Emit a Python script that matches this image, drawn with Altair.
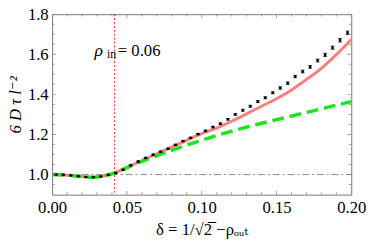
import altair as alt
import pandas as pd

# ---- data ----
pt_delta = [0.0025, 0.0075, 0.0125, 0.0175, 0.0225, 0.0275, 0.0325, 0.0375, 0.0425, 0.0475,
            0.0525, 0.0575, 0.0625, 0.0675, 0.0725, 0.0775, 0.0825, 0.0875, 0.0925, 0.0975,
            0.1025, 0.1075, 0.1125, 0.1175, 0.1225, 0.1275, 0.1325, 0.1375, 0.1425, 0.1475,
            0.1525, 0.1575, 0.1625, 0.1675, 0.1725, 0.1775, 0.1825, 0.1875, 0.1925, 0.1975]
pt_value = [1.000, 0.999, 0.996, 0.992, 0.988, 0.987, 0.990, 0.999, 1.008, 1.024,
            1.046, 1.065, 1.083, 1.099, 1.114, 1.129, 1.148, 1.167, 1.183, 1.202,
            1.218, 1.237, 1.254, 1.276, 1.300, 1.321, 1.341, 1.364, 1.383, 1.408,
            1.432, 1.456, 1.489, 1.514, 1.537, 1.569, 1.597, 1.633, 1.670, 1.707]
pt_err = [0.002, 0.002, 0.002, 0.002, 0.002, 0.002, 0.002, 0.002, 0.002, 0.002,
          0.003, 0.003, 0.003, 0.003, 0.003, 0.003, 0.003, 0.003, 0.003, 0.003,
          0.004, 0.004, 0.004, 0.004, 0.004, 0.005, 0.005, 0.005, 0.005, 0.005,
          0.006, 0.006, 0.006, 0.007, 0.007, 0.007, 0.008, 0.008, 0.009, 0.009]

curve_delta = [0.0, 0.01, 0.02, 0.025, 0.03, 0.035, 0.04, 0.05, 0.06, 0.07, 0.08, 0.09,
               0.10, 0.11, 0.12, 0.13, 0.14, 0.15, 0.16, 0.17, 0.18, 0.19, 0.20]
red_value = [1.000, 0.997, 0.990, 0.987, 0.988, 0.994, 1.004, 1.035, 1.070, 1.104, 1.137, 1.171,
             1.204, 1.232, 1.266, 1.303, 1.341, 1.378, 1.422, 1.474, 1.530, 1.598, 1.674]
green_value = [1.000, 0.997, 0.990, 0.987, 0.988, 0.994, 1.004, 1.035, 1.066, 1.094, 1.121, 1.147,
               1.172, 1.195, 1.216, 1.237, 1.256, 1.274, 1.292, 1.310, 1.328, 1.346, 1.364]

ref_line_value = [1.0, 1.0]
ref_line_delta = [0.0, 0.2]
vline_delta = [0.0418]

x_major = [0.0, 0.05, 0.10, 0.15, 0.20]
x_minor = [0.01, 0.02, 0.03, 0.04, 0.06, 0.07, 0.08, 0.09, 0.11, 0.12, 0.13, 0.14,
           0.16, 0.17, 0.18, 0.19]
y_major = [1.0, 1.2, 1.4, 1.6, 1.8]
y_minor = [0.95, 1.05, 1.1, 1.15, 1.25, 1.3, 1.35, 1.45, 1.5, 1.55, 1.65, 1.7, 1.75]

# annotation "ρ_in = 0.06": symbol (italic), subscript, rest
ann_sym = ["ρ"]
ann_sym_delta = [0.0283]
ann_sym_value = [1.589]
ann_sub = ["in"]
ann_sub_delta = [0.0366]
ann_sub_value = [1.579]
ann_rest = ["= 0.06"]
ann_rest_delta = [0.0439]
ann_rest_value = [1.589]

XDOM = [0.0, 0.2]
YDOM = [0.9, 1.8]
FONT = "Liberation Serif, Times New Roman, DejaVu Serif, serif"

pts = pd.DataFrame({"d": pt_delta, "v": pt_value, "e": pt_err})
pts["lo"] = pts["v"] - pts["e"]
pts["hi"] = pts["v"] + pts["e"]
curves = pd.DataFrame({"d": curve_delta, "red": red_value, "green": green_value})
href = pd.DataFrame({"d": ref_line_delta, "v": ref_line_value})
vref = pd.DataFrame({"d": vline_delta})

xs = alt.Scale(domain=XDOM, nice=False, zero=False)
ys = alt.Scale(domain=YDOM, nice=False, zero=False)

XTITLE = "δ = 1/√2̅ −ρₒᵤₜ"
YTITLE = "6 D τ l⁻²"

xaxis = alt.Axis(values=x_major, format=".2f", tickSize=0, domain=False, grid=False,
                 labelFlush=False, labelPadding=5, title=XTITLE, titlePadding=7)
yaxis = alt.Axis(values=y_major, format=".1f", tickSize=0, domain=False, grid=False,
                 labelFlush=False, labelPadding=4, title=YTITLE, titleFontStyle="italic",
                 titlePadding=3)


def xf(field):
    return alt.X(field, scale=xs, axis=xaxis, title=XTITLE)


def yf(field):
    return alt.Y(field, scale=ys, axis=yaxis, title=YTITLE)


hline = alt.Chart(href).mark_line(color="#8a8a8a", strokeWidth=1, strokeDash=[7, 3, 2, 3]).encode(
    x=xf("d:Q"), y=yf("v:Q"))

vline = alt.Chart(vref).mark_rule(color="#ff2020", strokeWidth=1, strokeDash=[2, 2]).encode(x=xf("d:Q"))

red = alt.Chart(curves).mark_line(color="#ff7f7f", strokeWidth=3, interpolate="monotone").encode(
    x=xf("d:Q"), y=yf("red:Q"))
green = alt.Chart(curves).mark_line(color="#19e619", strokeWidth=3.5, strokeDash=[12, 6],
                                    interpolate="monotone").encode(x=xf("d:Q"), y=yf("green:Q"))

ebar = alt.Chart(pts).mark_rule(color="black", strokeWidth=1).encode(
    x=xf("d:Q"), y=yf("lo:Q"), y2="hi:Q")
cap_lo = alt.Chart(pts).mark_tick(color="black", orient="horizontal", size=4, thickness=1).encode(
    x=xf("d:Q"), y=yf("lo:Q"))
cap_hi = alt.Chart(pts).mark_tick(color="black", orient="horizontal", size=4, thickness=1).encode(
    x=xf("d:Q"), y=yf("hi:Q"))
dots = alt.Chart(pts).mark_square(color="black", size=6, opacity=1).encode(x=xf("d:Q"), y=yf("v:Q"))


def ann_chart(texts, ds, vs, size, style):
    df = pd.DataFrame({"t": texts, "d": ds, "v": vs})
    return alt.Chart(df).mark_text(font=FONT, fontSize=size, fontStyle=style, align="left",
                                   baseline="alphabetic", color="black").encode(
        x=xf("d:Q"), y=yf("v:Q"), text="t:N")


txt_sym = ann_chart(ann_sym, ann_sym_delta, ann_sym_value, 18, "italic")
txt_sub = ann_chart(ann_sub, ann_sub_delta, ann_sub_value, 12, "normal")
txt_rest = ann_chart(ann_rest, ann_rest_delta, ann_rest_value, 17, "normal")


def xticks(vals, length):
    df = pd.DataFrame({"d": vals})
    out = []
    for edge in YDOM:
        out.append(alt.Chart(df).mark_tick(color="#777777", orient="vertical", size=2 * length,
                                           thickness=1, clip=True).encode(
            x=xf("d:Q"), y=alt.datum(edge, scale=ys, axis=yaxis, title=YTITLE)))
    return out


def yticks(vals, length):
    df = pd.DataFrame({"v": vals})
    out = []
    for edge in XDOM:
        out.append(alt.Chart(df).mark_tick(color="#777777", orient="horizontal", size=2 * length,
                                           thickness=1, clip=True).encode(
            y=yf("v:Q"), x=alt.datum(edge, scale=xs, axis=xaxis, title=XTITLE)))
    return out


ticks = xticks(x_major, 4) + xticks(x_minor, 2.5) + yticks(y_major, 4) + yticks(y_minor, 2.5)

chart = alt.layer(hline, vline, red, green, ebar, cap_lo, cap_hi, dots,
                  txt_sym, txt_sub, txt_rest, *ticks).properties(
    width=305, height=184,
    autosize=alt.AutoSizeParams(type="none"),
    padding={"left": 45, "top": 4, "right": 15, "bottom": 46},
).configure_view(stroke="#777777", strokeWidth=1).configure_axis(
    labelFont=FONT, labelFontSize=17, labelColor="black",
    titleFont=FONT, titleFontSize=17, titleFontWeight="normal", titleColor="black",
)

chart.save("out.html", embed_options={"renderer": "svg", "actions": False})
